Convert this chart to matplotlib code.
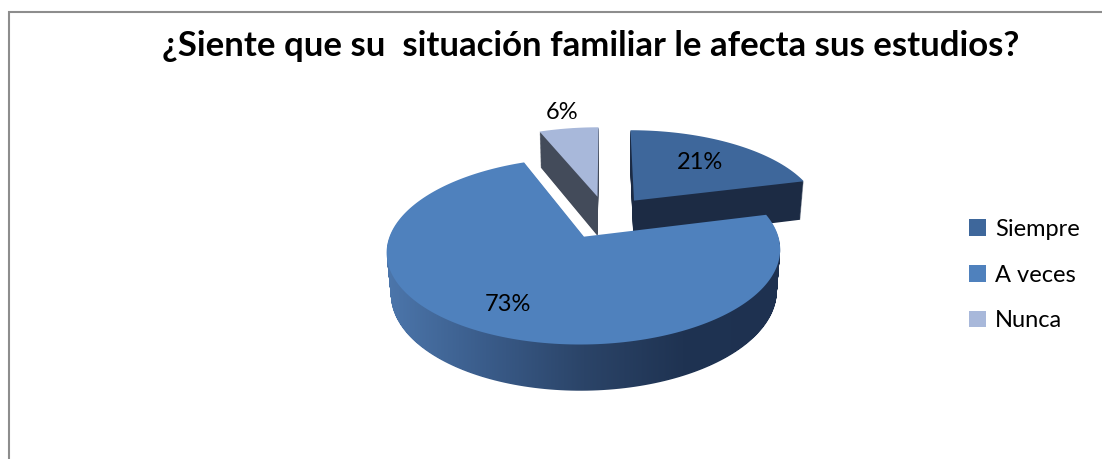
import numpy as np
import matplotlib
matplotlib.use("Agg")
import matplotlib.pyplot as plt
from matplotlib import transforms as mtransforms
from matplotlib.path import Path
from matplotlib.patches import Wedge, PathPatch, Patch
from matplotlib.colors import LinearSegmentedColormap

# data
categories = ["Siempre", "A veces", "Nunca"]
percentages = [21, 73, 6]
title = "¿Siente que su  situación familiar le afecta sus estudios?"

# style
top_colors = ["#3e679b", "#4f81bd", "#a8b8da"]
side_colors = ["#1c2b44", "#2c4770", "#434b5a"]
side_cmap = LinearSegmentedColormap.from_list(
    "side", ["#4c76ab", "#3a5c8a", "#2b4468", "#1f3352", "#1e3150"])
label_dist = [0.65, 0.75, 1.27]
FONT = "Lato"
ELEV, DIST = 27, 6.0


class Perspective(mtransforms.Transform):
    """Projects the pie plane (tilted towards the viewer) at height z."""
    input_dims = 2
    output_dims = 2
    is_separable = False
    has_inverse = False

    def __init__(self, z=0.0, elev=ELEV, dist=DIST):
        super().__init__()
        self.z = z
        self.s = np.sin(np.radians(elev))
        self.c = np.cos(np.radians(elev))
        self.d = dist

    def transform_non_affine(self, values):
        values = np.asarray(values, float)
        xy = values.reshape(-1, 2)
        u, v = xy[:, 0], xy[:, 1]
        k = self.d / (self.d + v * self.c - self.z * self.s)
        out = np.column_stack([u * k, (v * self.s + self.z * self.c) * k])
        return out.reshape(values.shape)

    def transform_path_non_affine(self, path):
        pts = []
        for bez, code in path.iter_bezier(simplify=False):
            cp = bez.control_points
            if code == Path.MOVETO:
                pts.append(cp)
            elif len(cp) > 2:
                pts.append(bez(np.linspace(0, 1, 25)[1:]))
            else:
                pts.append(cp[1:])
        verts = np.concatenate(pts)
        return Path(self.transform_non_affine(verts), closed=True)


fig = plt.figure(figsize=(11.02, 4.59), dpi=100)
ax = fig.add_axes([0, 0, 1, 1])

wedges, _ = ax.pie(percentages, startangle=90, counterclock=False,
                   explode=[0.25] * len(percentages), colors=top_colors,
                   wedgeprops=dict(linewidth=0))

pie_scale = 188
pie_center = (606, 217)
px = mtransforms.Affine2D().scale(pie_scale, -pie_scale).translate(*pie_center)
to_px = px + ax.transData
thickness = 0.245
zs = np.linspace(-thickness, 0, 44, endpoint=False)

for i, w in enumerate(wedges):
    w.set_transform(Perspective(0) + to_px)
    w.set_zorder(3)
    layer_paths = []
    for j, z in enumerate(zs):
        lw = Wedge(w.center, w.r, w.theta1, w.theta2, linewidth=0,
                   facecolor=side_colors[i], zorder=1 + j * 0.001)
        if i == 1:
            layer_paths.append((Perspective(z) + px).transform_path(lw.get_path()))
        else:
            lw.set_transform(Perspective(z) + to_px)
            ax.add_patch(lw)
    if layer_paths:
        body = Path.make_compound_path(*layer_paths)
        ext = body.get_extents()
        clip = PathPatch(body, transform=ax.transData, facecolor="none",
                         edgecolor="none")
        grad = np.linspace(0, 1, 256).reshape(1, -1)
        img = ax.imshow(grad, cmap=side_cmap, aspect="auto", zorder=1.5,
                        extent=(ext.x0, ext.x1, ext.y1, ext.y0),
                        interpolation="bilinear")
        img.set_clip_path(clip)

for w, p, d in zip(wedges, percentages, label_dist):
    ang = np.radians((w.theta1 + w.theta2) / 2)
    ax.text(w.center[0] + d * w.r * np.cos(ang),
            w.center[1] + d * w.r * np.sin(ang), f"{p}%",
            transform=Perspective(0) + to_px, ha="center", va="center",
            fontsize=17, family=FONT, zorder=5)

ax.set_xlim(0, 1102)
ax.set_ylim(459, 0)
ax.set_aspect("auto")
ax.set_axis_off()

# chart frame (left and top edges visible)
ax.plot([9, 9, 1102], [459, 12, 12], color="#8d8d8d", lw=1.5,
        solid_joinstyle="miter", zorder=0)

fig.text(591 / 1102, 1 - 56 / 459, title, ha="center", va="baseline",
         fontsize=25, fontweight="bold", family=FONT)

handles = [Patch(facecolor=c, linewidth=0) for c in top_colors]
fig.legend(handles, categories, loc="center left",
           bbox_to_anchor=(969 / 1102, 1 - 275 / 459), frameon=False,
           prop=dict(family=FONT, size=17), handlelength=0.7,
           handleheight=0.7, handletextpad=0.4, labelspacing=1.05,
           borderpad=0, borderaxespad=0)

fig.savefig("out.png", dpi=100)
